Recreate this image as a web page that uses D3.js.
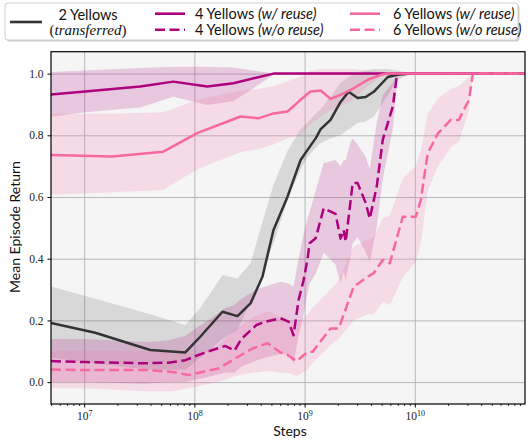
<!DOCTYPE html>
<html>
<head>
<meta charset="utf-8">
<script src="https://cdn.jsdelivr.net/npm/d3@7"></script>
<style>
  body { margin: 0; background: #fff; }
  .tick text { font-family: "Liberation Serif", serif; }
</style>
</head>
<body>
<div id="chart"></div>
<script>
// 2 Yellows (transferred)
var twoSteps = [5.0e6, 1.26e7, 3.98e7, 8.28e7, 1.13e8, 1.80e8, 2.46e8, 3.23e8, 4.15e8, 5.22e8, 7.0e8, 9.2e8, 1.06e9, 1.26e9, 1.40e9, 1.72e9, 2.12e9, 2.51e9, 3.03e9, 3.59e9, 4.24e9, 5.69e9, 7.0e9, 9.2e9, 1e11];
var twoMean  = [0.192, 0.160, 0.104, 0.096, 0.147, 0.228, 0.214, 0.255, 0.342, 0.493, 0.601, 0.720, 0.752, 0.790, 0.820, 0.850, 0.908, 0.941, 0.921, 0.924, 0.941, 0.989, 0.996, 1.0, 1.0];
var twoLo    = [0.08, 0.06, 0.04, 0.04, 0.08, 0.14, 0.17, 0.26, 0.36, 0.45, 0.59, 0.69, 0.73, 0.76, 0.775, 0.79, 0.80, 0.82, 0.84, 0.845, 0.86, 0.93, 0.98, 1.0, 1.0];
var twoHi    = [0.31, 0.27, 0.22, 0.185, 0.24, 0.347, 0.336, 0.385, 0.52, 0.64, 0.75, 0.82, 0.84, 0.87, 0.885, 0.925, 0.97, 0.99, 1.005, 1.01, 1.015, 1.015, 1.01, 1.0, 1.0];

// 4 Yellows (w/ reuse)
var fourReSteps = [5.0e6, 1.02e7, 3.23e7, 6.44e7, 1.31e8, 2.26e8, 5.22e8, 1e11];
var fourReMean  = [0.932, 0.942, 0.958, 0.974, 0.958, 0.969, 1.0, 1.0];
var fourReLo    = [0.86, 0.875, 0.89, 0.925, 0.898, 0.91, 0.996, 1.0];
var fourReHi    = [1.005, 1.01, 1.018, 1.022, 1.022, 1.02, 1.0, 1.0];

// 4 Yellows (w/o reuse)
var fourNoSteps = [5.0e6, 1.02e7, 3.59e7, 5.80e7, 8.28e7, 1.09e8, 1.46e8, 1.91e8, 2.31e8, 2.67e8, 3.66e8, 4.42e8, 6.05e8, 7.15e8, 7.94e8, 8.82e8, 9.79e8, 1.065e9, 1.11e9, 1.26e9, 1.49e9, 1.91e9, 2.12e9, 2.26e9, 2.36e9, 2.62e9, 2.73e9, 3.03e9, 3.59e9, 3.90e9, 4.51e9, 5.12e9, 6.31e9, 6.86e9, 7.0e9, 1e11];
var fourNoMean  = [0.068, 0.065, 0.061, 0.063, 0.071, 0.088, 0.104, 0.117, 0.102, 0.140, 0.185, 0.196, 0.207, 0.196, 0.152, 0.266, 0.33, 0.40, 0.45, 0.466, 0.563, 0.545, 0.465, 0.493, 0.455, 0.59, 0.645, 0.645, 0.58, 0.53, 0.633, 0.785, 0.893, 0.99, 1.0, 1.0];
var fourNoLo    = [0.0, 0.0, -0.005, 0.0, 0.0, 0.01, 0.02, 0.03, 0.03, 0.05, 0.07, 0.08, 0.09, 0.09, 0.06, 0.15, 0.22, 0.29, 0.32, 0.35, 0.42, 0.38, 0.32, 0.36, 0.33, 0.41, 0.45, 0.47, 0.42, 0.39, 0.50, 0.66, 0.82, 0.96, 1.0, 1.0];
var fourNoHi    = [0.14, 0.14, 0.13, 0.135, 0.15, 0.18, 0.21, 0.24, 0.25, 0.27, 0.30, 0.31, 0.325, 0.32, 0.31, 0.40, 0.48, 0.53, 0.55, 0.62, 0.71, 0.72, 0.70, 0.72, 0.72, 0.78, 0.79, 0.77, 0.73, 0.69, 0.84, 0.93, 0.97, 1.0, 1.0, 1.0];

// 6 Yellows (w/ reuse)
var sixReSteps = [5.0e6, 1.80e7, 5.22e7, 1.06e8, 2.62e8, 3.82e8, 5.22e8, 7.0e8, 9.2e8, 1.13e9, 1.40e9, 1.72e9, 2.12e9, 2.62e9, 3.74e9, 4.91e9, 5.69e9, 1e11];
var sixReMean  = [0.736, 0.731, 0.747, 0.807, 0.861, 0.855, 0.871, 0.877, 0.915, 0.942, 0.945, 0.918, 0.931, 0.947, 0.98, 0.996, 1.0, 1.0];
var sixReLo    = [0.607, 0.615, 0.623, 0.69, 0.745, 0.755, 0.77, 0.79, 0.80, 0.835, 0.86, 0.88, 0.893, 0.91, 0.96, 0.99, 1.0, 1.0];
var sixReHi    = [0.87, 0.87, 0.875, 0.915, 0.945, 0.95, 0.96, 0.975, 0.99, 1.01, 1.015, 1.015, 1.015, 1.015, 1.01, 1.005, 1.0, 1.0];

// 6 Yellows (w/o reuse)
var sixNoSteps = [5.0e6, 1.02e7, 3.59e7, 6.31e7, 8.82e7, 1.18e8, 1.65e8, 2.36e8, 3.37e8, 4.61e8, 6.05e8, 7.0e8, 8.46e8, 1.065e9, 1.18e9, 1.72e9, 2.04e9, 2.79e9, 3.74e9, 4.24e9, 5.12e9, 5.93e9, 7.78e9, 1.02e10, 1.134e10, 1.31e10, 1.62e10, 2.12e10, 2.51e10, 3.10e10, 3.37e10, 1e11];
var sixNoMean  = [0.041, 0.039, 0.039, 0.033, 0.023, 0.033, 0.044, 0.077, 0.109, 0.126, 0.096, 0.088, 0.068, 0.098, 0.098, 0.174, 0.174, 0.309, 0.342, 0.353, 0.396, 0.385, 0.536, 0.536, 0.59, 0.742, 0.806, 0.85, 0.85, 0.915, 1.0, 1.0];
var sixNoLo    = [-0.02, -0.02, -0.03, -0.03, -0.02, -0.01, 0.0, 0.02, 0.03, 0.035, 0.03, 0.03, 0.02, 0.04, 0.06, 0.12, 0.14, 0.20, 0.22, 0.22, 0.26, 0.25, 0.34, 0.39, 0.45, 0.62, 0.70, 0.76, 0.78, 0.88, 1.0, 1.0];
var sixNoHi    = [0.10, 0.10, 0.10, 0.095, 0.09, 0.10, 0.12, 0.17, 0.21, 0.23, 0.21, 0.20, 0.19, 0.22, 0.24, 0.30, 0.33, 0.44, 0.46, 0.47, 0.53, 0.54, 0.66, 0.70, 0.75, 0.87, 0.92, 0.95, 0.96, 0.99, 1.0, 1.0];

var xTicks = [1e7, 1e8, 1e9, 1e10];
var yTicks = [0, 0.2, 0.4, 0.6, 0.8, 1.0];

function rows(steps, mean, lo, hi) {
    return steps.map(function(s, i){ return {s: s, m: mean[i], lo: lo[i], hi: hi[i]}; });
}

var series = [
    {key: "two",    rows: rows(twoSteps, twoMean, twoLo, twoHi),             color: "#333333", band: 0.15, dash: null},
    {key: "fourRe", rows: rows(fourReSteps, fourReMean, fourReLo, fourReHi), color: "#ae017e", band: 0.18, dash: null},
    {key: "fourNo", rows: rows(fourNoSteps, fourNoMean, fourNoLo, fourNoHi), color: "#ae017e", band: 0.18, dash: "10,4.5"},
    {key: "sixRe",  rows: rows(sixReSteps, sixReMean, sixReLo, sixReHi),     color: "#f768a1", band: 0.18, dash: null},
    {key: "sixNo",  rows: rows(sixNoSteps, sixNoMean, sixNoLo, sixNoHi),     color: "#f768a1", band: 0.18, dash: "10,4.5"}
];

var width = 528,
    height = 440;
var pLeft = 51, pRight = 525, pTop = 51.7, pBottom = 404;

var svg = d3.select("#chart")
    .append("svg")
    .attr("width", width)
    .attr("height", height);

var x = d3.scaleLog()
    .domain([5e6, 1e11])
    .range([pLeft, pRight]);

var y = d3.scaleLinear()
    .domain([-0.071, 1.071])
    .range([pBottom, pTop]);

svg.append("defs").append("clipPath")
    .attr("id", "plotclip")
    .append("rect")
    .attr("x", pLeft).attr("y", pTop)
    .attr("width", pRight - pLeft).attr("height", pBottom - pTop);

svg.append("rect")
    .attr("x", pLeft).attr("y", pTop)
    .attr("width", pRight - pLeft).attr("height", pBottom - pTop)
    .attr("fill", "#f5f5f5");

// grid
svg.append("g")
    .attr("transform", "translate(0," + pBottom + ")")
    .call(d3.axisBottom(x).tickValues(xTicks).tickSize(-(pBottom - pTop)).tickFormat(""))
    .call(function(g){ g.select(".domain").remove(); })
    .selectAll("line").attr("stroke", "#b8b8b8").attr("stroke-width", 1);

svg.append("g")
    .attr("transform", "translate(" + pLeft + ",0)")
    .call(d3.axisLeft(y).tickValues(yTicks).tickSize(-(pRight - pLeft)).tickFormat(""))
    .call(function(g){ g.select(".domain").remove(); })
    .selectAll("line").attr("stroke", "#b8b8b8").attr("stroke-width", 1);

var plot = svg.append("g").attr("clip-path", "url(#plotclip)");

var area = d3.area()
    .x(function(d){ return x(d.s); })
    .y0(function(d){ return y(d.lo); })
    .y1(function(d){ return y(d.hi); });

var line = d3.line()
    .x(function(d){ return x(d.s); })
    .y(function(d){ return y(d.m); });

plot.selectAll("path.band")
    .data(series)
    .enter()
    .append("path")
    .attr("class", "band")
    .attr("d", function(d){ return area(d.rows); })
    .attr("fill", function(d){ return d.color; })
    .attr("fill-opacity", function(d){ return d.band; })
    .attr("stroke", "none");

plot.selectAll("path.mean")
    .data(series)
    .enter()
    .append("path")
    .attr("class", "mean")
    .attr("d", function(d){ return line(d.rows); })
    .attr("fill", "none")
    .attr("stroke", function(d){ return d.color; })
    .attr("stroke-width", 2.5)
    .attr("stroke-linejoin", "round")
    .attr("stroke-dasharray", function(d){ return d.dash; });

// axes
var minor = [];
for (var k = 6; k <= 10; k++) {
    for (var m = 2; m <= 9; m++) {
        var v = m * Math.pow(10, k);
        if (v >= 5e6 && v <= 1e11) minor.push(v);
    }
}

svg.append("g")
    .attr("transform", "translate(0," + pBottom + ")")
    .call(d3.axisBottom(x).tickValues(minor).tickSize(2).tickFormat(""))
    .call(function(g){ g.select(".domain").remove(); })
    .selectAll("line").attr("stroke", "#000").attr("stroke-width", 0.8);

var xAxis = svg.append("g")
    .attr("transform", "translate(0," + pBottom + ")")
    .call(d3.axisBottom(x).tickValues(xTicks).tickSize(3.5).tickPadding(4));
xAxis.select(".domain").remove();
xAxis.selectAll(".tick line").attr("stroke", "#000");
xAxis.selectAll(".tick text")
    .attr("font-size", "11.5px")
    .attr("fill", "#222")
    .each(function(d){
        var t = d3.select(this);
        t.text("");
        t.append("tspan").text("10");
        t.append("tspan")
            .attr("dy", "-0.45em")
            .attr("font-size", "8px")
            .text(Math.round(Math.log10(d)));
    });

var yAxis = svg.append("g")
    .attr("transform", "translate(" + pLeft + ",0)")
    .call(d3.axisLeft(y).tickValues(yTicks).tickSize(3.5).tickPadding(4).tickFormat(d3.format(".1f")));
yAxis.select(".domain").remove();
yAxis.selectAll(".tick line").attr("stroke", "#000");
yAxis.selectAll(".tick text").attr("font-size", "11.5px").attr("fill", "#222");

svg.append("rect")
    .attr("x", pLeft).attr("y", pTop)
    .attr("width", pRight - pLeft).attr("height", pBottom - pTop)
    .attr("fill", "none")
    .attr("stroke", "#000")
    .attr("stroke-width", 1.2);

svg.append("text")
    .attr("x", (pLeft + pRight) / 2 + 2)
    .attr("y", 436)
    .attr("text-anchor", "middle")
    .attr("font-family", "Lato, sans-serif")
    .attr("font-size", "14px")
    .attr("fill", "#111")
    .text("Steps");

svg.append("text")
    .attr("transform", "translate(20,227) rotate(-90)")
    .attr("text-anchor", "middle")
    .attr("font-family", "Lato, sans-serif")
    .attr("font-size", "14px")
    .attr("fill", "#111")
    .text("Mean Episode Return");

// legend
var lg = svg.append("g");
lg.append("rect")
    .attr("x", 6.5).attr("y", 4.5)
    .attr("width", 513).attr("height", 37)
    .attr("rx", 3)
    .attr("fill", "#999").attr("fill-opacity", 0.5);
lg.append("rect")
    .attr("x", 5).attr("y", 3)
    .attr("width", 513).attr("height", 37)
    .attr("rx", 3)
    .attr("fill", "#fff")
    .attr("stroke", "#d0d0d0")
    .attr("stroke-width", 1);

var legendItems = [
    {s: 0, hx: 10, hy: 22,   tx: 0,   ty: 0},
    {s: 1, hx: 155, hy: 13.7, tx: 195, ty: 18.5},
    {s: 2, hx: 155, hy: 29.7, tx: 195, ty: 34.5},
    {s: 3, hx: 350, hy: 13.7, tx: 393, ty: 18.5},
    {s: 4, hx: 350, hy: 29.7, tx: 393, ty: 34.5}
];
var legendText = ["", "4 Yellows|w/ reuse", "4 Yellows|w/o reuse", "6 Yellows|w/ reuse", "6 Yellows|w/o reuse"];

legendItems.forEach(function(it, i){
    var sr = series[it.s];
    lg.append("line")
        .attr("x1", it.hx).attr("x2", it.hx + (i == 0 ? 32 : 30))
        .attr("y1", it.hy).attr("y2", it.hy)
        .attr("stroke", sr.color)
        .attr("stroke-width", 2.6)
        .attr("stroke-dasharray", sr.dash);
    if (i == 0) return;
    var parts = legendText[i].split("|");
    var t = lg.append("text")
        .attr("x", it.tx).attr("y", it.ty)
        .attr("font-family", "Lato, sans-serif")
        .attr("font-size", "14.5px")
        .attr("fill", "#111");
    t.append("tspan").text(parts[0] + " ");
    t.append("tspan").attr("font-style", "italic").text("(" + parts[1] + ")");
});

lg.append("text")
    .attr("x", 88).attr("y", 19.5)
    .attr("text-anchor", "middle")
    .attr("font-family", "Lato, sans-serif")
    .attr("font-size", "14.5px")
    .attr("fill", "#111")
    .text("2 Yellows");
lg.append("text")
    .attr("x", 88).attr("y", 34.5)
    .attr("text-anchor", "middle")
    .attr("font-family", "Liberation Serif, serif")
    .attr("font-size", "15px")
    .attr("fill", "#111")
    .html("(<tspan font-style='italic'>transferred</tspan>)");
</script>
</body>
</html>
